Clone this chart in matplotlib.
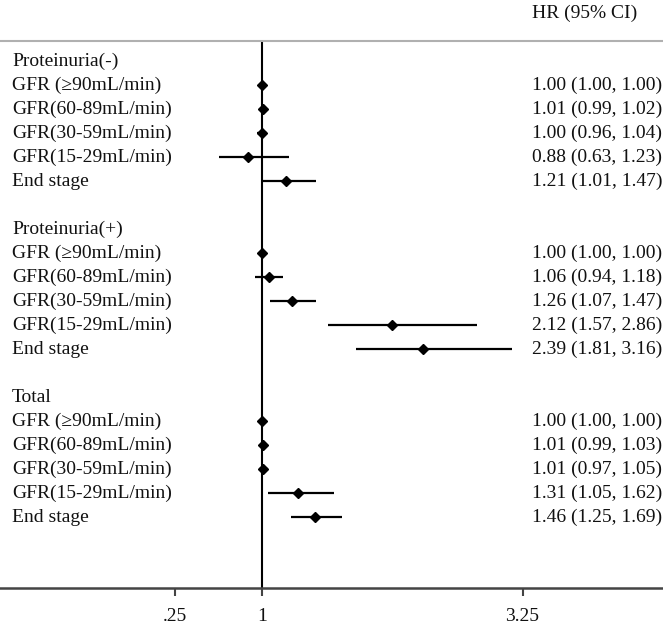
import matplotlib
matplotlib.use("Agg")
import matplotlib.pyplot as plt
import matplotlib.transforms as mtransforms

plt.rcParams['font.family'] = ['Liberation Serif', 'DejaVu Serif']

groups = ["Proteinuria(-)", "Proteinuria(+)", "Total"]
row_labels = ["GFR (\u226590mL/min)", "GFR(60-89mL/min)", "GFR(30-59mL/min)",
              "GFR(15-29mL/min)", "End stage"]
hr = [[1.00, 1.01, 1.00, 0.88, 1.21],
      [1.00, 1.06, 1.26, 2.12, 2.39],
      [1.00, 1.01, 1.01, 1.31, 1.46]]
lo = [[1.00, 0.99, 0.96, 0.63, 1.01],
      [1.00, 0.94, 1.07, 1.57, 1.81],
      [1.00, 0.99, 0.97, 1.05, 1.25]]
hi = [[1.00, 1.02, 1.04, 1.23, 1.47],
      [1.00, 1.18, 1.47, 2.86, 3.16],
      [1.00, 1.03, 1.05, 1.62, 1.69]]
xticks = [0.25, 1, 3.25]
xticklabels = [".25", "1", "3.25"]
header = "HR (95% CI)"

W, H = 663, 624
fig = plt.figure(figsize=(W / 100, H / 100), dpi=100)
top_px, bot_px = 41, 588
ax = fig.add_axes([0, (H - bot_px) / H, 1, (bot_px - top_px) / H])

# x scale: 1 at px 262, 115.8 px per unit
ppu = 115.8
ax.set_xlim(1 - 262 / ppu, 1 + (W - 262) / ppu)
row0, step = 61, 24
ax.set_ylim((bot_px - row0) / step, (top_px - row0) / step)

fs = 14
tr = mtransforms.blended_transform_factory(fig.transFigure, ax.transData)

row = 0
for g, name in enumerate(groups):
    ax.text(12 / W, row, name, transform=tr, ha='left', va='center', fontsize=fs, color='#111111')
    row += 1
    for i, lab in enumerate(row_labels):
        ax.text(12 / W, row, lab, transform=tr, ha='left', va='center', fontsize=fs, color='#111111')
        ax.plot([lo[g][i], hi[g][i]], [row, row], color='black', lw=1.6, solid_capstyle='butt', zorder=3)
        ax.plot(hr[g][i], row, marker='D', color='black', markersize=5.0, zorder=4)
        ax.text(532 / W, row, f"{hr[g][i]:.2f} ({lo[g][i]:.2f}, {hi[g][i]:.2f})",
                transform=tr, ha='left', va='center', fontsize=fs, color='#111111')
        row += 1
    row += 1

fig.text(532 / W, 1 - 13 / H, header, ha='left', va='center', fontsize=fs, color='#111111')

ax.axvline(1, color='black', lw=1.5, zorder=2)

for s in ['left', 'right']:
    ax.spines[s].set_visible(False)
ax.spines['top'].set_color('#b0b0b0')
ax.spines['top'].set_linewidth(1.5)
ax.spines['bottom'].set_color('#444444')
ax.spines['bottom'].set_linewidth(1.8)
ax.set_yticks([])
ax.set_xticks(xticks)
ax.set_xticklabels(xticklabels, fontsize=fs, color='#111111')
ax.tick_params(axis='x', direction='out', length=5.5, width=1.5, color='#444444', pad=9)

fig.savefig("out.png", dpi=100)
